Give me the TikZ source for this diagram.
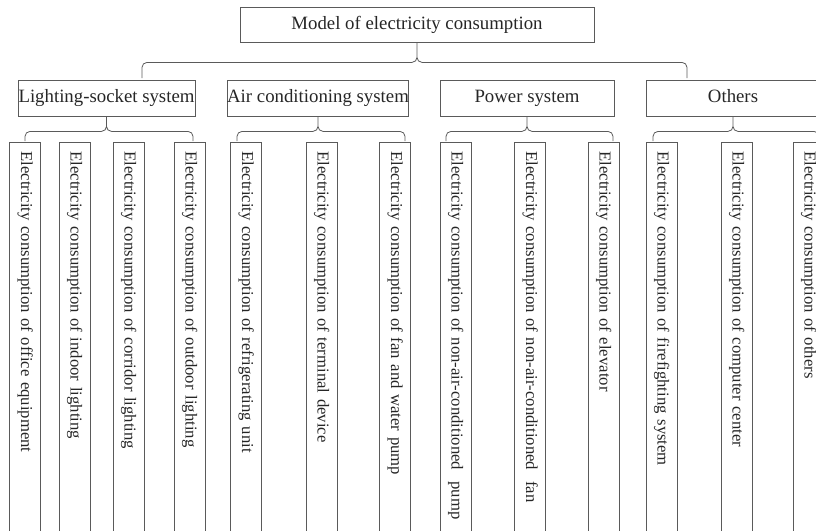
\documentclass[tikz,border=0pt]{standalone}
\usepackage{fontspec}
\setmainfont{Liberation Serif}
\usetikzlibrary{calc}

\definecolor{linegray}{HTML}{5A5A5A}
\tikzset{
  box/.style={draw=linegray, line width=.8pt, text=black!85, inner sep=0pt,
              text height=13pt, text depth=4pt,
              font=\fontsize{18.8}{22}\selectfont},
  leaf/.style={box, rotate=-90, anchor=west, minimum width=400, minimum height=31,
               inner xsep=9pt, text width=382pt, align=left,
               text height=11.6pt, text depth=3.7pt,
               font=\fontsize{16.7}{19}\selectfont},
  bracket/.style={draw=linegray, line width=.8pt, rounded corners=5pt}
}

\begin{document}
\begin{tikzpicture}[x=1pt, y=-1pt]
\path[use as bounding box, clip] (0,0) rectangle (816,530);

% 1. the model
\node[box, minimum width=354, minimum height=35] (model) at (417,24.5)
  {Model of electricity consumption};

% 2. the four systems
\foreach \x/\w/\name/\txt in {106.5/177/ls/Lighting-socket system,
                              318/180/ac/Air conditioning system,
                              527/174/ps/Power system,
                              733/174/ot/Others}
  \node[box, minimum width=\w, minimum height=36] (\name) at (\x,98) {\txt};

% 3. the consumptions
\foreach \x/\name/\txt in {25/office/office equipment,
                           74.5/indoor/indoor lighting,
                           128.5/corridor/corridor lighting,
                           189.5/outdoor/outdoor lighting,
                           246/refrig/refrigerating unit,
                           321.5/terminal/terminal device,
                           395/fanpump/fan and water pump,
                           455.5/pump/non-air-conditioned\ \ pump,
                           530/fan/non-air-conditioned\ \ fan,
                           603.5/elevator/elevator,
                           661.5/fire/firefighting system,
                           736.5/computer/computer center,
                           808.5/others/others}
  \node[leaf] (\name) at (\x,142) {Electricity consumption of \txt};

% 4. brackets
\coordinate (model-l) at (142,78);
\coordinate (model-r) at (687,78);
\draw[bracket] (model-l) |- ($(model.south)+(0,20)$) -- (model.south)
               (model-r) |- ($(model.south)+(0,20)$) -- (model.south);

% 4.1. one per system
\foreach \p/\a/\b in {ls/25/193, ac/237/405, ps/446/613, ot/653/819}{
  \coordinate (\p-l) at (\a,141);
  \coordinate (\p-r) at (\b,141);
  \draw[bracket] (\p-l) |- ($(\p.south)+(0,15)$) -- (\p.south)
                 (\p-r) |- ($(\p.south)+(0,15)$) -- (\p.south);
}
\end{tikzpicture}
\end{document}
